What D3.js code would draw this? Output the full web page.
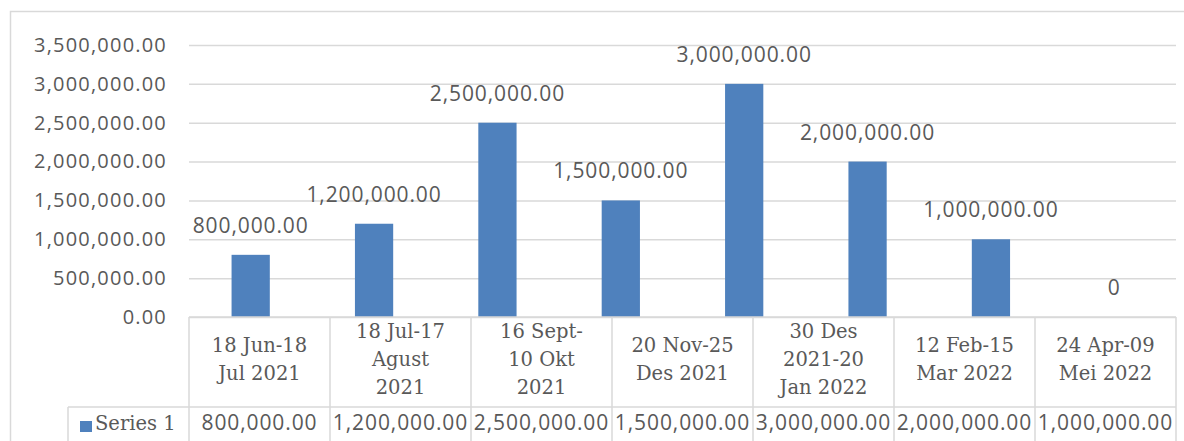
<!DOCTYPE html>
<html>
<head>
<meta charset="utf-8">
<script src="https://cdn.jsdelivr.net/npm/d3@7"></script>
<style>
  html, body { margin: 0; padding: 0; background: #fff; }
  svg { display: block; }
</style>
</head>
<body>
<svg id="chart" width="1184" height="441"></svg>
<script>
// ---- Data ----
const barCategories = ["c1", "c2", "c3", "c4", "c5", "c6", "c7", "c8"];
const seriesValues = [800000, 1200000, 2500000, 1500000, 3000000, 2000000, 1000000, 0];
const tableCategories = [
  "18 Jun-18\nJul 2021",
  "18 Jul-17\nAgust\n2021",
  "16 Sept-\n10 Okt\n2021",
  "20 Nov-25\nDes 2021",
  "30 Des\n2021-20\nJan 2022",
  "12 Feb-15\nMar 2022",
  "24 Apr-09\nMei 2022"
];
const tableValues = [800000, 1200000, 2500000, 1500000, 3000000, 2000000, 1000000];
const yTicks = [0, 500000, 1000000, 1500000, 2000000, 2500000, 3000000, 3500000];
const seriesName = "Series 1";

// ---- Layout ----
const plotLeft = 189, plotRight = 1176, plotTop = 45, plotBottom = 317;
const headerBottom = 407, tableBottom = 470, legendLeft = 68;
const gridColor = "#d9d9d9", textColor = "#595959", barColor = "#4f81bd";
const sansFont = "'Open Sans', sans-serif";
const serifFont = "'DejaVu Serif', serif";

const svg = d3.select("#chart");
const fmt = d3.format(",.2f");
const labelFmt = v => v === 0 ? "0" : fmt(v);

// outer chart border
svg.append("rect")
  .attr("x", 10.5).attr("y", 11.5)
  .attr("width", 1300).attr("height", 600)
  .attr("fill", "#fff").attr("stroke", gridColor).attr("stroke-width", 1.5);

const y = d3.scaleLinear().domain([0, 3500000]).range([plotBottom, plotTop]);
const x = d3.scaleBand().domain(barCategories).range([plotLeft, plotRight])
  .paddingInner(0.69).paddingOuter(0.345);

// gridlines
const grid = svg.append("g")
  .attr("transform", `translate(${plotLeft},0)`)
  .call(d3.axisLeft(y).tickValues(yTicks).tickSize(-(plotRight - plotLeft)).tickFormat(""));
grid.select(".domain").remove();
grid.selectAll(".tick line").attr("stroke", gridColor).attr("stroke-width", 1.5);

// y labels
const yAx = svg.append("g")
  .attr("transform", `translate(${plotLeft},0)`)
  .call(d3.axisLeft(y).tickValues(yTicks).tickSize(0).tickPadding(22).tickFormat(fmt));
yAx.select(".domain").remove();
yAx.selectAll("text")
  .attr("fill", textColor)
  .style("font-family", sansFont)
  .style("font-size", "20px")
  .style("letter-spacing", "1.2px");

// bars
svg.append("g").selectAll("rect")
  .data(seriesValues)
  .join("rect")
  .attr("x", (d, i) => x(barCategories[i]))
  .attr("width", x.bandwidth())
  .attr("y", d => y(d))
  .attr("height", d => y(0) - y(d))
  .attr("fill", barColor);

// data labels
svg.append("g").selectAll("text")
  .data(seriesValues)
  .join("text")
  .attr("x", (d, i) => x(barCategories[i]) + x.bandwidth() / 2)
  .attr("y", d => y(d) - 22)
  .attr("text-anchor", "middle")
  .attr("fill", textColor)
  .style("font-family", sansFont)
  .style("font-size", "21px")
  .style("letter-spacing", "0.9px")
  .text(d => labelFmt(d));

// data table
const tx = d3.scaleBand().domain(d3.range(tableCategories.length)).range([plotLeft, plotRight]);
const tbl = svg.append("g");
tbl.append("line").attr("x1", plotLeft).attr("x2", plotRight)
  .attr("y1", plotBottom).attr("y2", plotBottom)
  .attr("stroke", gridColor).attr("stroke-width", 1.5);
tbl.append("line").attr("x1", legendLeft).attr("x2", plotRight)
  .attr("y1", headerBottom).attr("y2", headerBottom)
  .attr("stroke", gridColor).attr("stroke-width", 1.5);
const vx = d3.range(tableCategories.length + 1).map(i => i < tableCategories.length ? tx(i) : plotRight);
tbl.selectAll("line.v").data(vx).join("line").attr("class", "v")
  .attr("x1", d => d).attr("x2", d => d)
  .attr("y1", plotBottom).attr("y2", tableBottom)
  .attr("stroke", gridColor).attr("stroke-width", 1.5);
tbl.append("line").attr("x1", legendLeft).attr("x2", legendLeft)
  .attr("y1", headerBottom).attr("y2", tableBottom)
  .attr("stroke", gridColor).attr("stroke-width", 1.5);

// header labels
const lineH = 28, headerMid = 366;
tableCategories.forEach((c, i) => {
  const lines = c.split("\n");
  const t = tbl.append("text")
    .attr("text-anchor", "middle")
    .attr("fill", textColor)
    .style("font-family", serifFont)
    .style("font-size", "19.5px");
  lines.forEach((ln, j) => {
    t.append("tspan")
      .attr("x", tx(i) + tx.bandwidth() / 2)
      .attr("y", headerMid + (j - (lines.length - 1) / 2) * lineH)
      .text(ln);
  });
});

// value cells
tbl.selectAll("text.val").data(tableValues).join("text").attr("class", "val")
  .attr("x", (d, i) => tx(i) + tx.bandwidth() / 2)
  .attr("y", 430)
  .attr("text-anchor", "middle")
  .attr("fill", textColor)
  .style("font-family", sansFont)
  .style("font-size", "21px")
  .style("letter-spacing", "0.9px")
  .text(d => fmt(d));

// legend key
tbl.append("rect").attr("x", 80).attr("y", 421).attr("width", 12).attr("height", 11).attr("fill", barColor);
tbl.append("text").attr("x", 95).attr("y", 430)
  .attr("fill", textColor)
  .style("font-family", serifFont)
  .style("font-size", "19.5px")
  .text(seriesName);
</script>
</body>
</html>
